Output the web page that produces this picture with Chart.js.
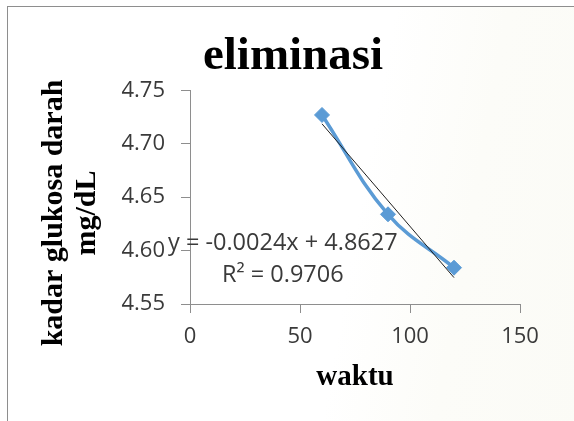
<!DOCTYPE html>
<html>
<head>
<meta charset="utf-8">
<script src="https://cdn.jsdelivr.net/npm/chart.js@4/dist/chart.umd.min.js"></script>
<style>
  html, body { margin: 0; padding: 0; background: #ffffff; width: 574px; height: 421px; overflow: hidden; }
  #frame { position: absolute; left: 7px; top: 6px; width: 700px; height: 600px;
           border: 1px solid #8e8e8e;
           background: linear-gradient(100deg, #ffffff 0%, #ffffff 48%, #fcfcf8 62%, #fafaf4 100%); }
  #wrap { position: absolute; left: 0; top: 0; width: 574px; height: 421px; }
</style>
</head>
<body>
<div id="frame"></div>
<div id="wrap"><canvas id="c" width="574" height="421"></canvas></div>
<script>
// ---- data ----
const chartTitle = 'eliminasi';
const xAxisTitle = 'waktu';
const yAxisTitle = ['kadar glukosa darah', 'mg/dL'];
const waktu = [60, 90, 120];
const kadar = [4.727, 4.634, 4.584];
const trendX = [60, 120];
const trendY = [4.7187, 4.5747];
const equationLines = ['y = -0.0024x + 4.8627', 'R\u00B2 = 0.9706'];
const xTicks = [0, 50, 100, 150];
const yTicks = [4.55, 4.60, 4.65, 4.70, 4.75];

const seriesPoints = waktu.map((x, i) => ({ x: x, y: kadar[i] }));
const trendPoints = trendX.map((x, i) => ({ x: x, y: trendY[i] }));

const axisColor = '#8e8e8e';
const tickColor = '#3a3a3a';
const sansFont = "'Open Sans', 'Liberation Sans', sans-serif";
const serifFont = "'Liberation Serif', 'DejaVu Serif', serif";

const annotationPlugin = {
  id: 'texts',
  afterDraw(chart) {
    const ctx = chart.ctx;
    ctx.save();
    // equation + R^2
    ctx.fillStyle = tickColor;
    ctx.font = "23.5px " + sansFont;
    ctx.textAlign = 'left';
    ctx.textBaseline = 'alphabetic';
    ctx.fillText(equationLines[0], 168, 250);
    ctx.fillText(equationLines[1], 222, 282);
    // y axis title (two lines, rotated)
    ctx.fillStyle = '#000000';
    ctx.font = "bold 30px " + serifFont;
    ctx.textAlign = 'center';
    ctx.translate(61.5, 213);
    ctx.rotate(-Math.PI / 2);
    ctx.fillText(yAxisTitle[0], 0, 0);
    ctx.fillText(yAxisTitle[1], 0, 33.5);
    ctx.restore();
  }
};

new Chart(document.getElementById('c'), {
  type: 'line',
  data: {
    datasets: [
      {
        label: 'trend',
        data: trendPoints,
        borderColor: '#1f1f1f',
        borderWidth: 1,
        pointRadius: 0,
        tension: 0,
        fill: false
      },
      {
        label: 'kadar',
        data: seriesPoints,
        borderColor: '#5B9BD5',
        backgroundColor: '#5B9BD5',
        borderWidth: 3.5,
        pointStyle: 'rectRot',
        pointRadius: 7.5,
        pointBorderWidth: 1,
        pointBackgroundColor: '#5B9BD5',
        pointBorderColor: '#5B9BD5',
        tension: 0.4,
        fill: false
      }
    ]
  },
  options: {
    responsive: false,
    animation: false,
    events: [],
    layout: { padding: { left: 12, right: 0, top: 0, bottom: 0 } },
    plugins: {
      legend: { display: false },
      tooltip: { enabled: false },
      title: {
        display: true,
        text: chartTitle,
        color: '#000000',
        font: { family: serifFont, size: 47, weight: 'bold', lineHeight: 1.2 },
        padding: { top: 29, bottom: 5 }
      }
    },
    scales: {
      x: {
        type: 'linear',
        position: 'bottom',
        min: xTicks[0],
        max: xTicks[xTicks.length - 1],
        afterBuildTicks(s) { s.ticks = xTicks.map(v => ({ value: v })); },
        afterFit(s) { s.height = 117; },
        grid: { display: true, drawOnChartArea: false, drawTicks: true, tickLength: 9, color: axisColor, lineWidth: 1 },
        border: { display: true, color: axisColor, width: 1 },
        ticks: { color: tickColor, padding: 11, font: { family: sansFont, size: 22 }, maxRotation: 0 },
        title: {
          display: true,
          text: xAxisTitle,
          color: '#000000',
          font: { family: serifFont, size: 29, weight: 'bold', lineHeight: 1.2 },
          padding: { top: 0, bottom: 26 }
        }
      },
      y: {
        type: 'linear',
        position: 'left',
        min: yTicks[0],
        max: yTicks[yTicks.length - 1],
        afterBuildTicks(s) { s.ticks = yTicks.map(v => ({ value: v })); },
        afterFit(s) { s.width = 178; },
        grid: { display: true, drawOnChartArea: false, drawTicks: true, tickLength: 9, color: axisColor, lineWidth: 1 },
        border: { display: true, color: axisColor, width: 1 },
        ticks: { color: tickColor, padding: 16, font: { family: sansFont, size: 22 },
                 callback: v => Number(v).toFixed(2) },
        title: { display: false }
      },
      spacer: {
        type: 'linear',
        position: 'right',
        display: true,
        afterFit(s) { s.width = 54; },
        grid: { display: false, drawTicks: false },
        border: { display: false },
        ticks: { display: false }
      }
    }
  },
  plugins: [annotationPlugin]
});
</script>
</body>
</html>
